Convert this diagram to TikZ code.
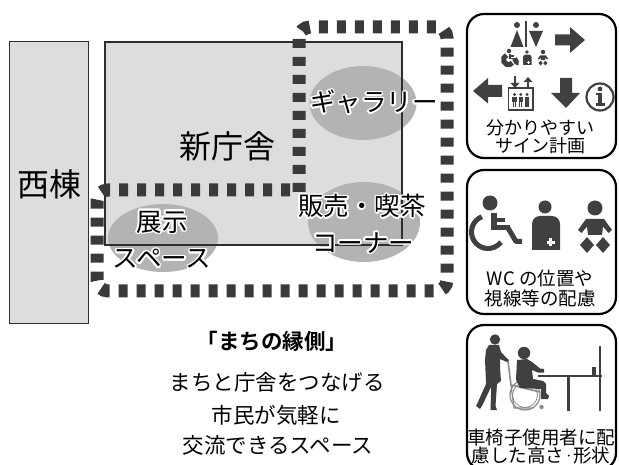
\documentclass[tikz,border=0pt]{standalone}
\usepackage{fontspec}
\setmainfont{Noto Sans CJK JP}[BoldFont={Noto Sans CJK JP Bold}]
\usetikzlibrary{shapes.geometric}

\definecolor{bldgfill}{HTML}{DCDDDF}
\definecolor{zonegray}{HTML}{B2B3B5}
\definecolor{edge}{HTML}{2E2E2E}
\definecolor{dashgray}{HTML}{3A3A3A}
\definecolor{icon}{HTML}{404040}
\definecolor{chair}{HTML}{8A8A8A}

% text with a white rim, for labels that sit on grey
\newcommand\rimmed[1]{{\setbox0\hbox{#1}%
  \color{white}%
  \rlap{\kern1.6pt\copy0}\rlap{\kern-1.6pt\copy0}%
  \rlap{\raise1.6pt\copy0}\rlap{\lower1.6pt\copy0}%
  \rlap{\kern1.15pt\raise1.15pt\copy0}\rlap{\kern-1.15pt\raise1.15pt\copy0}%
  \rlap{\kern1.15pt\lower1.15pt\copy0}\rlap{\kern-1.15pt\lower1.15pt\copy0}%
  \rlap{\kern1.5pt\raise0.6pt\copy0}\rlap{\kern-1.5pt\raise0.6pt\copy0}%
  \rlap{\kern1.5pt\lower0.6pt\copy0}\rlap{\kern-1.5pt\lower0.6pt\copy0}%
  \rlap{\kern0.6pt\raise1.5pt\copy0}\rlap{\kern-0.6pt\raise1.5pt\copy0}%
  \rlap{\kern0.6pt\lower1.5pt\copy0}\rlap{\kern-0.6pt\lower1.5pt\copy0}%
  \color{black}\box0}}

\tikzset{
  bldg/.style={fill=bldgfill, draw=edge, line width=1.1},
  zone/.style={ellipse, fill=zonegray, inner sep=0pt},
  bigname/.style={font=\fontsize{32}{32}\selectfont, inner sep=0pt},
  zonename/.style={font=\fontsize{25.5}{25.5}\selectfont, inner sep=0pt},
  route/.style={draw=dashgray, line width=13, dash pattern=on 9 off 9, rounded corners=11},
  panel/.style={draw=black, line width=2.2, rounded corners=17, fill=white},
  paneltext/.style={font=\fontsize{18.5}{18}\selectfont, inner sep=0pt, align=center},
  slogan/.style={font=\fontsize{21.5}{22}\selectfont, inner sep=0pt},
  pics/wheelchair/.style={code={
    \fill[icon] (0,0) circle (7.5);
    \fill[icon] (0.7,10) rectangle (6.8,25.5);
    \fill[icon] (0.7,15) rectangle (15,19.5);
    \fill[icon] (0.7,22) rectangle (20,27.5);
    \draw[icon, line width=5, line join=round] (18,25) -- (26,38.5) -- (32,38.5);
    \draw[icon, line width=5] (-2,29) ++(248:16.5) arc[start angle=248, end angle=38, radius=16.5];
  }},
  pics/carer/.style={code={
    \fill[icon] (0,0) circle (6.5);
    \fill[icon] (-13,43) -- (-13,17) arc[start angle=180, end angle=270, radius=8]
       -- (7,9) arc[start angle=270, end angle=360, radius=8] -- (15,43) -- cycle;
    \fill[white] (1.5,33.7) rectangle (9.5,36.7);
    \fill[white] (4,31.2) rectangle (7,39.2);
  }},
  pics/baby/.style={code={
    \fill[icon] (0,0) circle (7.5);
    \fill[icon] (-9,11) -- (9,11) -- (17,22) -- (13.5,25) -- (8,18.5) -- (7,27)
       -- (-7,27) -- (-8,18.5) -- (-13.5,25) -- (-17,22) -- cycle;
    \fill[icon] (-8,29) -- (-1,37) -- (-8,45) -- (-15,37) -- cycle;
    \fill[icon] (8,29) -- (15,37) -- (8,45) -- (1,37) -- cycle;
  }},
}

\begin{document}
\begin{tikzpicture}[x=1pt, y=-1pt]
\useasboundingbox (0,0) rectangle (619,465);

% ---- buildings ----
\node[bldg, minimum width=79, minimum height=282, inner sep=0, anchor=north west] (west) at (9,41) {};
\fill[bldgfill] (105,42) rectangle (402,245);
\node[zone, minimum width=107, minimum height=74] (gallery) at (363,103) {};
\node[zone, minimum width=112, minimum height=80] (shop) at (364,222) {};
\node[zone, minimum width=110, minimum height=68] (exhibit) at (163,238) {};
\draw[edge, line width=1.1] (105,42) rectangle (402,245);

\node[bigname] (westname) at (49,184) {西棟};
\node[bigname] (hallname) at (227,146) {新庁舎};

% ---- the route around the hall ----
\coordinate (r1) at (299,192);
\coordinate (r2) at (299,27);
\coordinate (r3) at (447,27);
\coordinate (r4) at (447,291);
\coordinate (r5) at (97,291);
\coordinate (r6) at (97,190);
\coordinate (r7) at (292,190);
\draw[route] (r1) -- (r2) -- (r3) -- (r4) -- (r5) -- (r6) -- (r7);

% ---- zone labels ----
\node[zonename] (galleryname) at (374,102) {\rimmed{ギャラリー}};
\node[zonename] (shopname1) at (362,206) {\rimmed{販売・喫茶}};
\node[zonename] (shopname2) at (363,243) {\rimmed{コーナー}};
\node[zonename] (exhibitname1) at (162,222) {\rimmed{展示}};
\node[zonename] (exhibitname2) at (162,259) {\rimmed{スペース}};

% ---- slogan ----
\node[slogan, font=\fontsize{21.5}{22}\selectfont\bfseries] (motto) at (272,341) {「まちの縁側」};
\node[slogan] (line1) at (277,382) {まちと庁舎をつなげる};
\node[slogan] (line2) at (276,415) {市民が気軽に};
\node[slogan] (line3) at (278,445) {交流できるスペース};

% ---- panel 1: signage ----
\draw[panel] (467,14) rectangle (616,158);
% toilet sign
\fill[icon] (517,25) circle (3);
\fill[icon] (510.5,47) -- (523.5,47) -- (517,30) -- cycle;
\draw[icon, line width=1.6] (526,21) -- (526,47);
\fill[icon] (536,25) circle (3);
\fill[icon] (529,31) -- (543,31) -- (536,47) -- cycle;
\pic[scale=0.3] at (509,51) {wheelchair};
\pic[scale=0.3] at (527,52) {carer};
\pic[scale=0.3] at (543,52) {baby};
% arrows
\fill[icon] (555,34.5) -- (570,34.5) -- (570,27) -- (585,40) -- (570,53) -- (570,45.5) -- (555,45.5) -- cycle;
\fill[icon] (502,85) -- (488,85) -- (488,78) -- (473,91) -- (488,103.5) -- (488,97) -- (502,97) -- cycle;
\fill[icon] (560,78) -- (572,78) -- (572,93) -- (580,93) -- (566,108) -- (551,93) -- (560,93) -- cycle;
% lift
\draw[icon, line width=1.8] (508.5,88) rectangle (533,110);
\draw[icon, line width=2] (515,76.5) -- (515,84);
\fill[icon] (510.5,83) -- (519.5,83) -- (515,88) -- cycle;
\draw[icon, line width=2] (528,87) -- (528,81);
\fill[icon] (523.5,82) -- (532.5,82) -- (528,77) -- cycle;
\foreach \px in {514.5,520.8,527} {
  \fill[icon] (\px,94.5) circle (1.6);
  \fill[icon] (\px-2.3,97) rectangle (\px+2.3,102);
  \fill[icon] (\px-1.6,102) rectangle (\px-0.4,107);
  \fill[icon] (\px+0.4,102) rectangle (\px+1.6,107);
}
% information
\draw[icon, line width=2.2] (600,97) circle (13.5);
\fill[icon] (600,89) circle (2.4);
\fill[icon] (597.5,93) rectangle (602.2,104.5);
\fill[icon] (595.5,93) rectangle (599,95);
\fill[icon] (595.5,103.5) rectangle (604.5,105.8);
\node[paneltext, font=\fontsize{18}{18}\selectfont] (p1text) at (540,137) {分かりやすい\\サイン計画};

% ---- panel 2: toilets ----
\draw[panel] (467,170) rectangle (616,314);
\pic at (490,203) {wheelchair};
\pic at (545,207) {carer};
\pic at (595,208) {baby};
\node[paneltext, font=\fontsize{18.5}{20}\selectfont] (p2text) at (540,288) {WC の位置や\\視線等の配慮};

% ---- panel 3: table height ----
\draw[panel] (467,325) rectangle (616,470);
% standing helper
\fill[icon] (495,339.5) circle (5.2);
\fill[icon] (489,345) -- (499,345) -- (501,352) -- (507,358.5) -- (509,360) -- (508,362.5)
   -- (500,359) -- (500,368) -- (501,381) -- (497,384) -- (495.5,406) -- (497,410)
   -- (490.5,410) -- (491,395) -- (491,387) -- (483,404) -- (480,409) -- (476,406)
   -- (478,402) -- (486,384) -- (486,382) -- (485,360) -- (486,350) -- cycle;
% wheelchair frame
\draw[chair, line width=1.2] (525,395) circle (15);
\draw[chair, line width=0.8] (525,395) circle (12.5);
\draw[chair, line width=1.6] (508,361) -- (511,385) -- (540,392);
\draw[chair, line width=1.2] (511,385) -- (514,408) -- (533,408);
\fill[chair] (541.5,407) circle (2.2);
% seated person
\fill[icon] (524,353) circle (6.2);
\fill[icon] (517,360) -- (527,359) -- (532,362) -- (540,368.5) -- (544,369) -- (544,372.5)
   -- (538,372.5) -- (532,370) -- (533,379) -- (543,381) -- (546,384) -- (546,393)
   -- (549,396) -- (548,399) -- (541,399) -- (541,389) -- (520,388) -- (516,380) -- cycle;
% table
\draw[icon, line width=2.6] (538,376) -- (602,376);
\draw[icon, line width=2.6] (568.5,376) -- (568.5,411);
\draw[icon, line width=2.6] (600,346) -- (600,411);
\fill[icon] (592,367) rectangle (595.5,375);
\node[paneltext, font=\fontsize{18.5}{17.5}\selectfont] (p3text) at (541,446.5) {車椅子使用者に配\\慮した高さ{\fontsize{9}{9}\selectfont\raisebox{0.5ex}{・}}形状};

\end{tikzpicture}
\end{document}
